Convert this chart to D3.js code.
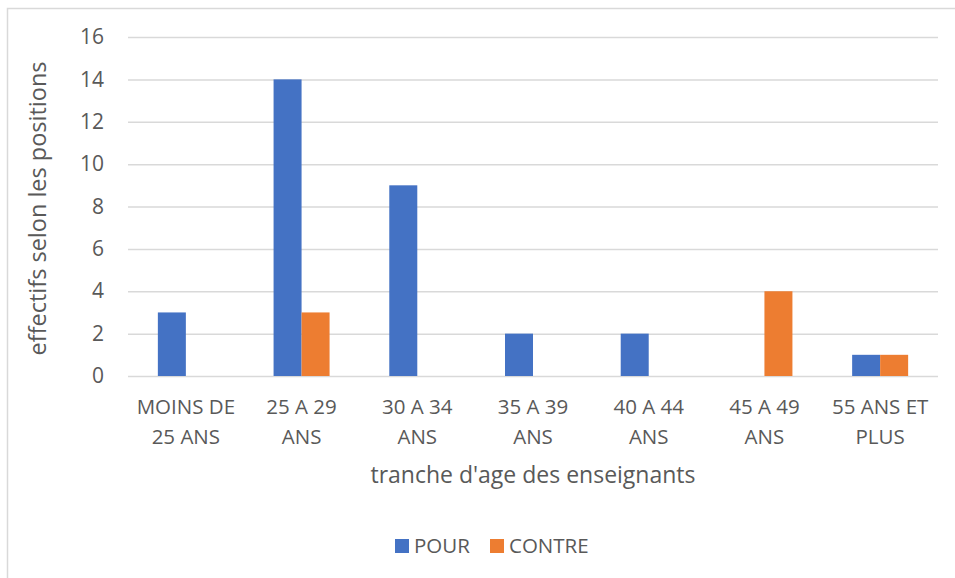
<!DOCTYPE html>
<html>
<head>
<meta charset="utf-8">
<script src="https://cdn.jsdelivr.net/npm/d3@7"></script>
<style>
  body { margin: 0; background: #fff; }
  text { font-family: "Open Sans", sans-serif; fill: #595959; }
</style>
</head>
<body>
<div id="chart"></div>
<script>
// Chart data
var categories = ["MOINS DE 25 ANS", "25 A 29 ANS", "30 A 34 ANS", "35 A 39 ANS", "40 A 44 ANS", "45 A 49 ANS", "55 ANS ET PLUS"];
var categoryLines = [["MOINS DE", "25 ANS"], ["25 A 29", "ANS"], ["30 A 34", "ANS"], ["35 A 39", "ANS"], ["40 A 44", "ANS"], ["45 A 49", "ANS"], ["55 ANS ET", "PLUS"]];
var pour = [3, 14, 9, 2, 2, 0, 1];
var contre = [0, 3, 0, 0, 0, 4, 1];
var seriesNames = ["POUR", "CONTRE"];
var yTicks = [0, 2, 4, 6, 8, 10, 12, 14, 16];

var svgWidth = 955;
var svgHeight = 578;

var margin = { top: 37, right: 17, bottom: 202, left: 128 };
var chartWidth = svgWidth - margin.left - margin.right;
var chartHeight = svgHeight - margin.top - margin.bottom;

var colors = ["#4472C4", "#ED7D31"];

var svg = d3.select("#chart")
  .append("svg")
  .attr("width", svgWidth)
  .attr("height", svgHeight);

// outer chart border (only top/left visible)
svg.append("rect")
  .attr("x", 7.5)
  .attr("y", 8.5)
  .attr("width", 960)
  .attr("height", 600)
  .attr("fill", "none")
  .attr("stroke", "#d9d9d9")
  .attr("stroke-width", 1.5);

var chartGroup = svg.append("g")
  .attr("transform", `translate(${margin.left}, ${margin.top})`);

var xScale = d3.scaleBand()
  .domain(categories)
  .range([0, chartWidth]);

var xInner = d3.scaleBand()
  .domain(seriesNames)
  .range([0, 56]);

var yScale = d3.scaleLinear()
  .domain([0, 16])
  .range([chartHeight, 0]);

// gridlines + y labels
var leftAxis = d3.axisLeft(yScale)
  .tickValues(yTicks)
  .tickSize(-chartWidth)
  .tickPadding(24);

var yAxisG = chartGroup.append("g").call(leftAxis);
yAxisG.select(".domain").remove();
yAxisG.selectAll("line").attr("stroke", "#d9d9d9").attr("stroke-width", 1.5);
yAxisG.selectAll("text")
  .attr("font-size", 21)
  .attr("font-family", "Open Sans, sans-serif")
  .attr("fill", "#595959");

// bars
var rows = categories.map(function(c, i) {
  return { cat: c, values: [pour[i], contre[i]] };
});

var groups = chartGroup.selectAll(".grp")
  .data(rows)
  .enter().append("g")
  .attr("transform", d => `translate(${xScale(d.cat) + xScale.bandwidth() / 2 - 28}, 0)`);

groups.selectAll("rect")
  .data(d => d.values.map((v, j) => ({ name: seriesNames[j], value: v, idx: j })))
  .enter().append("rect")
  .attr("x", d => xInner(d.name))
  .attr("width", xInner.bandwidth())
  .attr("y", d => yScale(d.value))
  .attr("height", d => chartHeight - yScale(d.value))
  .attr("fill", d => colors[d.idx]);

// category labels (two lines)
var xLabels = chartGroup.append("g")
  .selectAll("text")
  .data(categories)
  .enter().append("text")
  .attr("text-anchor", "middle")
  .attr("font-size", 20.5)
  .attr("x", d => xScale(d) + xScale.bandwidth() / 2)
  .attr("y", chartHeight + 38);

xLabels.each(function(d, i) {
  var t = d3.select(this);
  categoryLines[i].forEach(function(line, k) {
    t.append("tspan")
      .attr("x", xScale(d) + xScale.bandwidth() / 2)
      .attr("dy", k === 0 ? 0 : 30)
      .text(line);
  });
});

// axis titles
chartGroup.append("text")
  .attr("text-anchor", "middle")
  .attr("font-size", 23)
  .attr("x", chartWidth / 2)
  .attr("y", chartHeight + 107)
  .text("tranche d'age des enseignants");

chartGroup.append("text")
  .attr("text-anchor", "middle")
  .attr("font-size", 23.5)
  .attr("transform", "rotate(-90)")
  .attr("x", -chartHeight / 2 - 2)
  .attr("y", -82)
  .text("effectifs selon les positions");

// legend
var legend = svg.append("g").attr("transform", "translate(395, 539)");
var legendX = [0, 95];
seriesNames.forEach(function(name, i) {
  legend.append("rect")
    .attr("x", legendX[i])
    .attr("y", 0)
    .attr("width", 14)
    .attr("height", 14)
    .attr("fill", colors[i]);
  legend.append("text")
    .attr("x", legendX[i] + 19)
    .attr("y", 14)
    .attr("font-size", 20.5)
    .text(name);
});
</script>
</body>
</html>
